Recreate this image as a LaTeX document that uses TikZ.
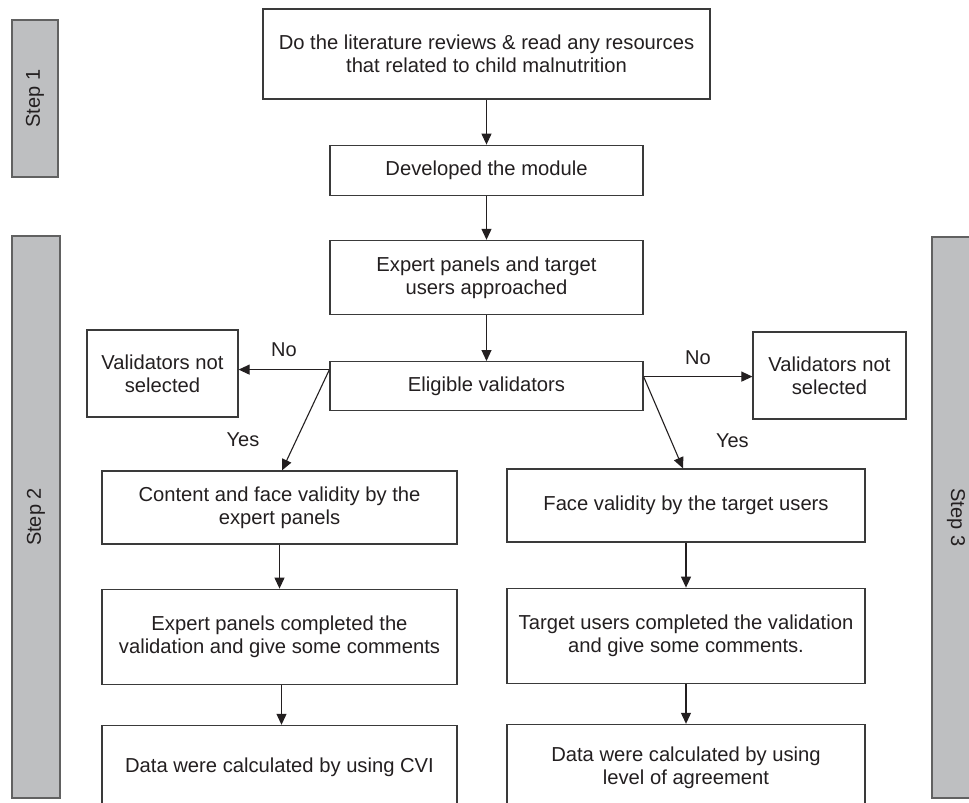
\documentclass[tikz,border=0pt]{standalone}
\usepackage{fontspec}
\setmainfont{Liberation Sans}
\usepackage{tikz}
\usetikzlibrary{arrows.meta,positioning,calc}
\definecolor{ink}{HTML}{231F20}
\definecolor{edge}{HTML}{3A3A3A}
\definecolor{bar}{HTML}{BEBFC1}
\tikzset{
  >={Triangle[length=11pt,width=10pt]},
  box/.style={draw=edge,line width=1.2pt,inner sep=0pt,align=center,text=ink,
    font=\fontsize{20.2}{23}\selectfont},
  stepbar/.style={draw=edge!80,fill=bar,line width=1.2pt,inner sep=0pt,rotate=90,
    text=ink,font=\fontsize{20}{24}\selectfont},
  lbl/.style={text=ink,font=\fontsize{20}{24}\selectfont},
  arr/.style={->,draw=ink,line width=1.1pt},
}
\begin{document}
\begin{tikzpicture}[x=1pt,y=-1pt]
\clip (0,0) rectangle (969,803);
\fill[white] (0,0) rectangle (969,803);
% step bars
\node[stepbar,minimum width=157pt,minimum height=46pt] (s1) at (35,98.5) {Step 1};
\node[stepbar,minimum width=562pt,minimum height=48pt] (s2) at (36,517) {Step 2};
\node[stepbar,rotate=180,minimum width=561pt,minimum height=48pt] (s3) at (956,517.5) {Step 3};
% main column
\node[box,minimum width=447pt,minimum height=90pt] (lit) at (486.5,54)
  {Do the literature reviews \& read any resources\\that related to child malnutrition};
\node[box,below=45pt of lit,minimum width=313pt,minimum height=50pt] (dev) {Developed the module};
\node[box,below=44pt of dev,minimum width=313pt,minimum height=74pt] (appr) {Expert panels and target\\users approached};
\node[box,below=46pt of appr,minimum width=313pt,minimum height=49pt] (elig) {Eligible validators};
\node[box,minimum width=151pt,minimum height=87pt] (nsl) at (162.5,373.5) {Validators not\\selected};
\node[box,minimum width=153pt,minimum height=87pt] (nsr) at (829.5,375.5) {Validators not\\selected};
% expert panels branch
\node[box,minimum width=355pt,minimum height=73pt] (cont) at (279.5,507.5) {Content and face validity by the\\expert panels};
\node[box,below=44pt of cont,minimum width=355pt,minimum height=95pt] (ecomp) {Expert panels completed the\\validation and give some comments};
\node[box,below=40pt of ecomp,minimum width=355pt,minimum height=84pt] (cvi) {Data were calculated by using CVI};
% target users branch
\node[box,minimum width=358pt,minimum height=73pt] (face) at (686,505.5) {Face validity by the target users};
\node[box,below=45pt of face,minimum width=358pt,minimum height=95pt] (tcomp) {Target users completed the validation\\and give some comments.};
\node[box,below=40pt of tcomp,minimum width=358pt,minimum height=86pt] (agr) {Data were calculated by using\\level of agreement};
% connectors
\draw[arr] (lit) -- (dev);
\draw[arr] (dev) -- (appr);
\draw[arr] (appr) -- (elig);
\draw[arr] ([yshift=16.5pt]elig.west) coordinate (nl) -- node[lbl,above=9pt]{No} (nl -| nsl.east);
\draw[arr] ([yshift=9.5pt]elig.east) coordinate (nr) -- node[lbl,above=8pt]{No} (nr -| nsr.west);
\draw[arr] (nl) -- node[lbl,pos=0.7,left=33pt]{Yes} ([xshift=2.5pt]cont.north);
\draw[arr] (nr) -- node[lbl,pos=0.7,right=41pt]{Yes} ([xshift=-3pt]face.north);
\draw[arr] (cont) -- (ecomp);
\draw[arr] ([xshift=2pt]ecomp.south) -- ([xshift=2pt]cvi.north);
\draw[arr] (face) -- (tcomp);
\draw[arr] (tcomp) -- (agr);
\end{tikzpicture}
\end{document}
